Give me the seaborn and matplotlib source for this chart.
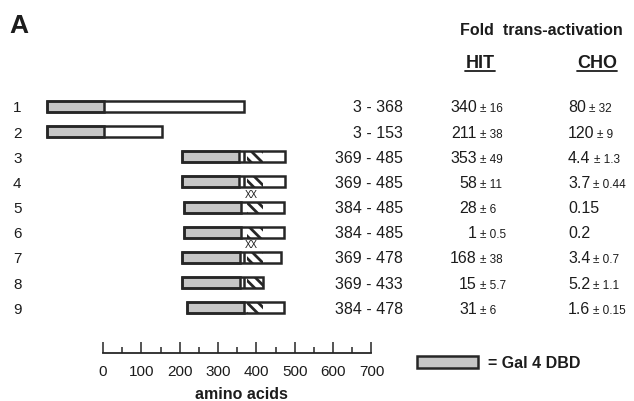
import numpy as np
import matplotlib.pyplot as plt
import seaborn as sns
from matplotlib.lines import Line2D

sns.set_theme(style="white")
plt.rcParams["font.family"] = ["Liberation Sans", "DejaVu Sans"]
plt.rcParams["hatch.linewidth"] = 2.0

# Data
row_labels = ["1", "2", "3", "4", "5", "6", "7", "8", "9"]
aa_start = [3, 3, 369, 369, 384, 384, 369, 369, 384]
aa_end = [368, 153, 485, 485, 485, 485, 478, 433, 478]
# where the schematic bars sit on the amino-acid ruler
drawn_start = [3, 3, 355, 355, 360, 360, 357, 357, 368]
drawn_end = [368, 154, 474, 474, 472, 472, 465, 417, 472]
mutated = [False, False, False, True, False, True, False, False, False]
hit_fold = ["340", "211", "353", "58", "28", "1", "168", "15", "31"]
hit_err = ["16", "38", "49", "11", "6", "0.5", "38", "5.7", "6"]
cho_fold = ["80", "120", "4.4", "3.7", "0.15", "0.2", "3.4", "5.2", "1.6"]
cho_err = ["32", "9", "1.3", "0.44", "", "", "0.7", "1.1", "0.15"]
gal4_len = 150          # Gal4 DBD drawn in front of each construct
mark_aa = 367           # black bar inside the activation region
hatch_aa = (375, 417)   # hatched region
xx_aa = 386
ruler_major = [0, 100, 200, 300, 400, 500, 600, 700]
ruler_minor = [50, 150, 250, 350, 450, 550, 650]

# Layout (pixel geometry of the 634x401 picture)
W, H = 634, 401
X0_PX, PX_PER_AA = 103, 268.5 / 700
ROW0_PX, ROW_PX = 81.35, 25.15
GRAY, EDGE, INK = "#c6c6c6", "#262626", "#1c1c1c"


def aa_at(px):
    return (px - X0_PX) / PX_PER_AA


def row_at(py):
    return (py - ROW0_PX) / ROW_PX


fig = plt.figure(figsize=(W / 100, H / 100), dpi=100)
fig.patch.set_facecolor("white")
ax = fig.add_axes([0, 0, 1, 1])
ax.set_xlim(aa_at(0), aa_at(W))
ax.set_ylim(row_at(H), row_at(0))
ax.axis("off")

rows = np.arange(1, len(row_labels) + 1)
starts = np.array(drawn_start)
ends = np.array(drawn_end)
true_start = np.array(aa_start)
bar_h = 0.44

# constructs
ax.barh(rows, ends - starts, left=starts, height=bar_h, color="white", edgecolor="none")
ax.barh(rows, gal4_len, left=starts - gal4_len, height=bar_h, color=GRAY, edgecolor="none")
act = true_start > 300
hs = np.maximum(starts, hatch_aa[0])
he = np.minimum(ends, hatch_aa[1])
ax.barh(rows[act], (he - hs)[act], left=hs[act], height=bar_h, color="white",
        hatch="\\\\\\", edgecolor=EDGE, linewidth=0)
m = act & (true_start < 380)
ax.vlines(np.full(m.sum(), mark_aa), rows[m] - bar_h / 2, rows[m] + bar_h / 2,
          color=EDGE, lw=1.8)
ax.barh(rows, gal4_len, left=starts - gal4_len, height=bar_h, fill=False,
        edgecolor=EDGE, lw=1.8)
ax.barh(rows, ends - starts + gal4_len, left=starts - gal4_len, height=bar_h,
        fill=False, edgecolor=EDGE, lw=1.8)
for r, mut in zip(rows, mutated):
    if mut:
        ax.text(xx_aa, r + 0.5, "XX", fontsize=7, ha="center", va="center", color=INK)

# text columns
renderer = fig.canvas.get_renderer()
base = 6 / ROW_PX


def with_err(t, err, y):
    if not err:
        return
    bb = t.get_window_extent(renderer)
    x = ax.transData.inverted().transform((bb.x1 + 3, 0))[0]
    ax.text(x, y, f"± {err}", fontsize=8.5, ha="left", va="baseline", color=INK)


for i, r in enumerate(rows):
    y = r + base
    ax.text(aa_at(13), y, row_labels[i], fontsize=11, ha="left", va="baseline", color=INK)
    ax.text(aa_at(403), y, f"{aa_start[i]} - {aa_end[i]}", fontsize=11.5,
            ha="right", va="baseline", color=INK)
    t = ax.text(aa_at(477), y, hit_fold[i], fontsize=11.5, ha="right",
                va="baseline", color=INK)
    with_err(t, hit_err[i], y)
    t = ax.text(aa_at(568), y, cho_fold[i], fontsize=11.5, ha="left",
                va="baseline", color=INK)
    with_err(t, cho_err[i], y)

# headers
fig.text(9 / W, 1 - 33 / H, "A", fontsize=19, weight="bold", va="baseline", color=INK)
fig.text(541 / W, 1 - 35 / H, "Fold  trans-activation", fontsize=11.5, weight="bold",
         ha="center", va="baseline", color=INK)
for label, cx in [("HIT", 480), ("CHO", 597)]:
    t = fig.text(cx / W, 1 - 68 / H, label, fontsize=13, weight="bold",
                 ha="center", va="baseline", color=INK)
    bb = t.get_window_extent(renderer)
    fig.add_artist(Line2D([bb.x0 / W, bb.x1 / W], [1 - 71 / H, 1 - 71 / H],
                          transform=fig.transFigure, color=INK, lw=1.3))

# ruler
ax_r = fig.add_axes([X0_PX / W, 1 - 353 / H, 700 * PX_PER_AA / W, 0.04])
ax_r.set_xlim(0, 700)
ax_r.patch.set_alpha(0)
for side in ["top", "left", "right"]:
    ax_r.spines[side].set_visible(False)
ax_r.spines["bottom"].set_linewidth(1.3)
ax_r.spines["bottom"].set_color(EDGE)
ax_r.set_yticks([])
ax_r.set_xticks(ruler_major)
ax_r.set_xticks(ruler_minor, minor=True)
ax_r.tick_params(axis="x", which="major", direction="in", length=8, width=1.1,
                 color=EDGE, pad=8.5, labelsize=11, labelcolor=INK, bottom=True)
ax_r.tick_params(axis="x", which="minor", direction="in", length=4.3, width=1.1,
                 color=EDGE, bottom=True)
fig.text(241 / W, 1 - 399 / H, "amino acids", fontsize=11.5, weight="bold",
         ha="center", va="baseline", color=INK)

# legend
ax.barh([row_at(362)], aa_at(478) - aa_at(417), left=aa_at(417), height=bar_h,
        color=GRAY, edgecolor=EDGE, lw=1.8)
fig.text(488 / W, 1 - 368 / H, "= Gal 4 DBD", fontsize=11.5, weight="bold",
         ha="left", va="baseline", color=INK)

fig.savefig("out.png", dpi=100, facecolor="white")
